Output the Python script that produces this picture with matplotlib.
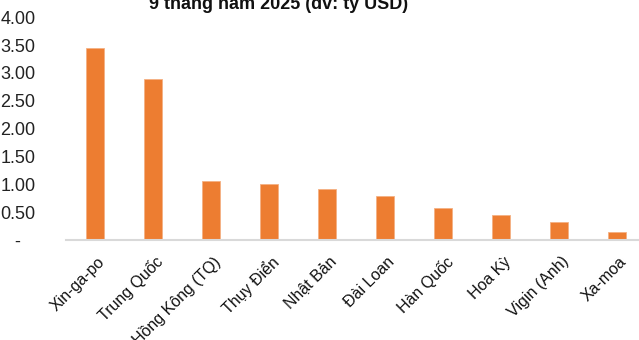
import matplotlib
matplotlib.use('Agg')
import matplotlib.pyplot as plt
from matplotlib.ticker import FuncFormatter
from matplotlib.transforms import ScaledTranslation

# dữ liệu
countries = ['Xin-ga-po', 'Trung Quốc', 'Hồng Kông (TQ)', 'Thụy Điển', 'Nhật Bản',
             'Đài Loan', 'Hàn Quốc', 'Hoa Kỳ', 'Vigin (Anh)', 'Xa-moa']
values = [3.45, 2.89, 1.06, 1.01, 0.92, 0.79, 0.57, 0.45, 0.32, 0.14]
yticks = [0, 0.5, 1.0, 1.5, 2.0, 2.5, 3.0, 3.5, 4.0]
title = '9 tháng năm 2025 (đv: tỷ USD)'


def fmt(v, pos):
	if v == 0:
		return '-   '
	return '%.2f' % v


def main():
	plt.rcParams['font.family'] = ['Liberation Sans', 'DejaVu Sans']
	fig = plt.figure(figsize=(6.39, 3.40), dpi=100)
	ax = fig.add_axes([0.1033, 0.2941, 0.9077, 0.655])

	x = range(len(countries))
	ax.bar(x, values, width=0.31, color='#ED7D31', edgecolor='#F4B183', linewidth=0.6)

	ax.set_xlim(-0.5, len(countries) - 0.5)
	ax.set_ylim(0, 4.0)
	ax.set_yticks(yticks)
	ax.yaxis.set_major_formatter(FuncFormatter(fmt))
	ax.tick_params(axis='y', length=0, labelsize=13, pad=22, labelcolor='#222222')
	ax.set_xticks(list(x))
	ax.set_xticklabels(countries, rotation=45, ha='right', rotation_mode='anchor',
					   fontsize=11.5, color='#111111')
	ax.tick_params(axis='x', length=0, pad=10)
	# dịch nhãn sang phải một chút
	off = ScaledTranslation(2 / 100, 0, fig.dpi_scale_trans)
	for lab in ax.get_xticklabels():
		lab.set_transform(lab.get_transform() + off)

	for s in ['top', 'right', 'left']:
		ax.spines[s].set_visible(False)
	ax.spines['bottom'].set_color('#D9D9D9')
	ax.spines['bottom'].set_linewidth(1.5)

	fig.text(0.436, 1 - 9 / 340, title, ha='center', va='baseline',
			 fontsize=13, fontweight='bold', color='#111111')

	fig.savefig('out.png', dpi=100)


if __name__ == '__main__':
	main()
